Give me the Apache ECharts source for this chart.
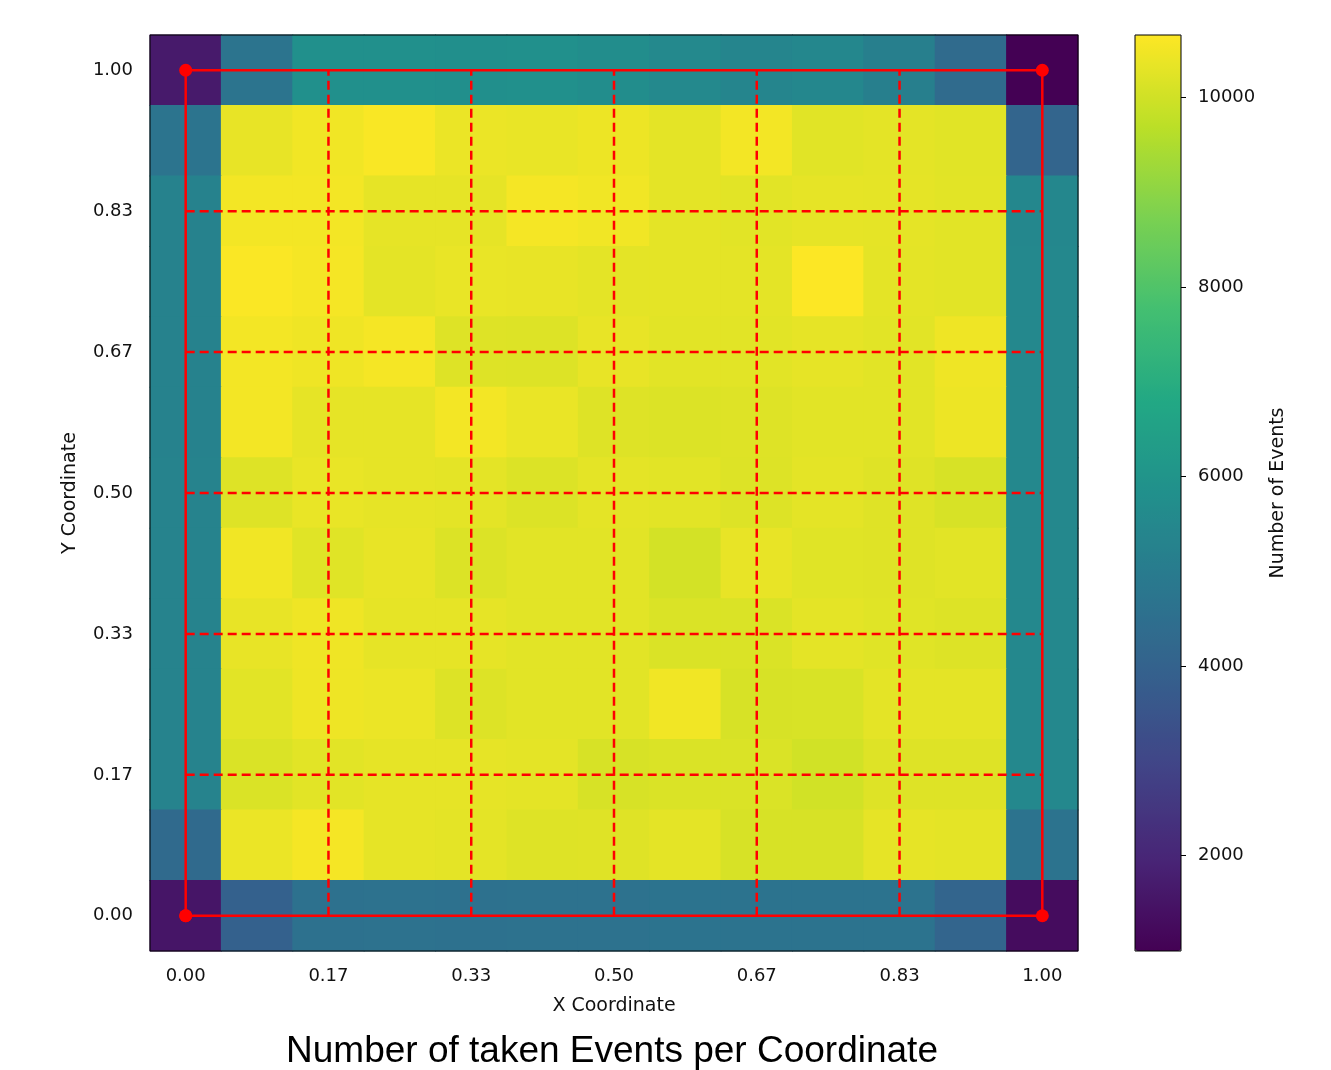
<!DOCTYPE html>
<html>
<head>
<meta charset="utf-8">
<script src="https://cdn.jsdelivr.net/npm/echarts@6/dist/echarts.min.js"></script>
<style>
html, body { margin: 0; padding: 0; background: #fff; }
#chart { width: 1331px; height: 1070px; }
</style>
</head>
<body>
<div id="chart"></div>
<script>
// cell centres on both axes, in twelfths from 0 to 1
const coords = ['0.00', '0.08', '0.17', '0.25', '0.33', '0.42', '0.50', '0.58', '0.67', '0.75', '0.83', '0.92', '1.00'];

// events per cell, one row per y value, top row (y = 1.00) first
const counts = [
  [1650, 4700, 5820, 5820, 5800, 5820, 5700, 5530, 5380, 5480, 5140, 4350, 990],
  [4700, 10350, 10480, 10600, 10400, 10360, 10420, 10300, 10510, 10250, 10290, 10250, 4090],
  [5260, 10510, 10510, 10320, 10320, 10540, 10480, 10300, 10270, 10320, 10310, 10270, 5450],
  [5260, 10620, 10540, 10290, 10360, 10350, 10300, 10300, 10300, 10640, 10290, 10260, 5500],
  [5260, 10510, 10460, 10540, 10210, 10190, 10350, 10270, 10270, 10320, 10270, 10450, 5500],
  [5260, 10510, 10330, 10330, 10510, 10380, 10210, 10170, 10200, 10270, 10260, 10430, 5500],
  [5300, 10210, 10360, 10330, 10300, 10170, 10290, 10270, 10190, 10290, 10220, 10110, 5500],
  [5300, 10480, 10240, 10350, 10170, 10270, 10260, 10050, 10350, 10240, 10220, 10260, 5500],
  [5300, 10350, 10460, 10330, 10330, 10270, 10270, 10140, 10140, 10300, 10240, 10190, 5500],
  [5300, 10260, 10440, 10390, 10190, 10260, 10260, 10480, 10110, 10120, 10300, 10290, 5500],
  [5300, 10140, 10260, 10320, 10320, 10290, 10110, 10150, 10140, 10010, 10210, 10200, 5500],
  [4300, 10390, 10540, 10320, 10300, 10210, 10220, 10290, 10100, 10100, 10320, 10300, 4650],
  [1530, 3950, 4580, 4600, 4580, 4600, 4620, 4660, 4660, 4660, 4660, 4090, 1280]
];

// red overlay: solid outer frame with corner dots, dashed sixths inside
const frameX = [0, 1, 1, 0, 0];
const frameY = [0, 0, 1, 1, 0];
const sixths = [1 / 6, 2 / 6, 3 / 6, 4 / 6, 5 / 6];

// colour bar
const countMin = 990;
const countMax = 10660;
const barTicks = [2000, 4000, 6000, 8000, 10000];

const viridis = ['#440154', '#482576', '#414487', '#35608d', '#2a788e', '#21908c',
  '#22a884', '#43bf71', '#7ad151', '#bbdf27', '#fde725'];

const cells = [];
for (let r = 0; r < counts.length; r++) {
  for (let c = 0; c < counts[r].length; c++) {
    cells.push([c, counts.length - 1 - r, counts[r][c]]);
  }
}

const red = '#ff0000';
const dashStyle = {color: red, width: 2.5, type: [9, 5]};
const guideSeries = [];
sixths.forEach(s => {
  guideSeries.push({
    type: 'line', xAxisIndex: 1, yAxisIndex: 1, symbol: 'none', silent: true,
    lineStyle: dashStyle, data: [[s, 0], [s, 1]]
  });
  guideSeries.push({
    type: 'line', xAxisIndex: 1, yAxisIndex: 1, symbol: 'none', silent: true,
    lineStyle: dashStyle, data: [[0, s], [1, s]]
  });
});

const labelStyle = {fontSize: 18, color: '#111', fontFamily: 'DejaVu Sans'};
const nameStyle = {fontSize: 19, color: '#111', fontFamily: 'DejaVu Sans'};
const tickStyle = {show: true, length: 5, lineStyle: {color: '#000', width: 1}};

// cells as rects, grown by a pixel so neighbours leave no seam
function drawCell(params, api) {
  const p = api.coord([api.value(0), api.value(1)]);
  const s = api.size([1, 1]);
  return {
    type: 'rect',
    shape: {x: p[0] - s[0] / 2 - 0.5, y: p[1] - s[1] / 2 - 0.5, width: s[0] + 1, height: s[1] + 1},
    style: {fill: api.visual('color')}
  };
}

var myChart = echarts.init(document.getElementById('chart'));
myChart.setOption({
  animation: false,
  backgroundColor: '#fff',
  textStyle: {fontFamily: 'DejaVu Sans'},
  grid: [
    {left: 150, top: 35, width: 928, height: 916, show: true, z: 10,
      borderColor: '#000', borderWidth: 1, backgroundColor: 'transparent'},
    {left: 1135, top: 35, width: 46, height: 916, show: true, z: 10,
      borderColor: '#000', borderWidth: 1, backgroundColor: 'transparent'}
  ],
  xAxis: [
    {
      type: 'category', gridIndex: 0, data: coords,
      axisLine: {show: false},
      axisTick: Object.assign({alignWithLabel: true, interval: 1}, tickStyle),
      axisLabel: Object.assign({interval: 1, margin: 16}, labelStyle),
      splitLine: {show: false},
      name: 'X Coordinate', nameLocation: 'middle', nameGap: 46,
      nameTextStyle: nameStyle
    },
    {type: 'value', gridIndex: 0, min: -1 / 24, max: 25 / 24, show: false},
    {type: 'category', gridIndex: 1, data: [''], show: false}
  ],
  yAxis: [
    {
      type: 'category', gridIndex: 0, data: coords,
      axisLine: {show: false},
      axisTick: Object.assign({alignWithLabel: true, interval: 1}, tickStyle),
      axisLabel: Object.assign({interval: 1, margin: 17}, labelStyle),
      splitLine: {show: false},
      name: 'Y Coordinate', nameLocation: 'middle', nameGap: 70, nameRotate: 90,
      nameTextStyle: nameStyle
    },
    {type: 'value', gridIndex: 0, min: -1 / 24, max: 25 / 24, show: false},
    {
      type: 'value', gridIndex: 1, position: 'right', min: countMin, max: countMax,
      axisLine: {show: false},
      axisTick: Object.assign({customValues: barTicks}, tickStyle),
      axisLabel: Object.assign({customValues: barTicks, margin: 17, formatter: v => String(v)}, labelStyle),
      splitLine: {show: false},
      name: 'Number of Events', nameLocation: 'middle', nameGap: 88, nameRotate: 90,
      nameTextStyle: nameStyle
    }
  ],
  visualMap: {
    type: 'continuous', seriesIndex: 0, dimension: 2, min: countMin, max: countMax,
    calculable: false, hoverLink: false, padding: 0,
    left: 1135, top: 35, itemWidth: 46, itemHeight: 916,
    inRange: {color: viridis}
  },
  graphic: [{
    type: 'text', x: 612, y: 1052,
    style: {
      text: 'Number of taken Events per Coordinate',
      fontSize: 37, fontFamily: 'Liberation Sans', fill: '#000',
      align: 'center', verticalAlign: 'middle'
    }
  }],
  series: [
    {
      type: 'custom', xAxisIndex: 0, yAxisIndex: 0, data: cells,
      renderItem: drawCell, silent: true
    }
  ].concat(guideSeries, [
    {
      type: 'line', xAxisIndex: 1, yAxisIndex: 1, silent: true,
      symbol: 'circle', symbolSize: 13,
      itemStyle: {color: red},
      lineStyle: {color: red, width: 2.5},
      data: frameX.map((x, i) => [x, frameY[i]])
    }
  ])
});
</script>
</body>
</html>
